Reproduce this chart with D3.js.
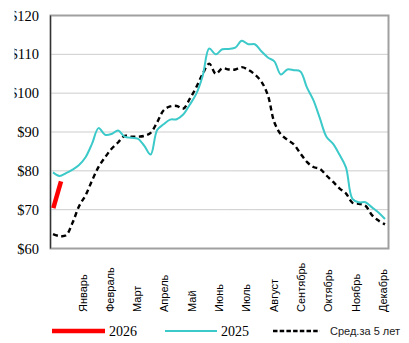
<!DOCTYPE html>
<html><head><meta charset="utf-8">
<script src="https://cdn.jsdelivr.net/npm/d3@7"></script>
<style>html,body{margin:0;padding:0;background:#fff;}svg{display:block;}</style>
</head><body>
<script>
const months = ["Январь","Февраль","Март","Апрель","Май","Июнь","Июль","Август","Сентябрь","Октябрь","Ноябрь","Декабрь"];
const yTicks = [60,70,80,90,100,110,120];
const series2026 = [70.4, 77.3];
const series2025 = [79.6,78.7,79.4,80.3,81.5,83.5,87.0,91.0,89.3,89.5,90.4,88.8,88.5,88.3,86.5,84.2,90.5,92.0,93.2,93.3,94.5,97.0,99.8,104.5,111.5,110.0,111.3,111.4,111.7,113.5,112.6,112.6,110.8,109.2,108.2,104.8,106.1,105.9,105.6,101.5,98.2,93.5,88.8,87.0,84.2,80.9,72.8,71.9,71.9,70.6,69.3,67.6];
const avg5 = [63.7,63.2,63.4,66.6,70.9,73.7,77.5,81.0,83.5,85.7,87.3,89.0,88.8,88.8,89.0,89.8,92.5,95.6,96.6,96.7,96.0,98.5,101.5,105.0,107.6,105.0,106.4,106.1,106.1,106.7,106.0,104.8,103.0,99.5,92.5,89.4,88.0,86.8,84.5,82.3,81.0,80.5,78.8,77.2,75.5,74.2,71.8,71.5,71.0,68.6,67.2,66.2];
const legendItems = [
  {label:"2026", color:"#ff0000", width:4.5, dash:null, font:"'Liberation Serif', serif", size:14, color2:"#000"},
  {label:"2025", color:"#3cc9c9", width:2, dash:null, font:"'Liberation Serif', serif", size:14, color2:"#000"},
  {label:"Сред.за 5 лет", color:"#000", width:2.6, dash:"4.5,2.2", font:"'Liberation Sans', Arial, sans-serif", size:11, color2:"#222"}
];

const W = 409, H = 343;
const svg = d3.select("body").append("svg").attr("width", W).attr("height", H);
const plot = {l:50.5, r:388.5, t:15.5, b:248.5};

const y = d3.scaleLinear().domain([60,120]).range([plot.b, plot.t]);
const x = d3.scaleLinear().domain([1,52]).range([53, 385]);
const xm = d3.scalePoint().domain(months).range([82.7, 383]);

svg.append("defs").append("clipPath").attr("id","ylab")
  .append("rect").attr("x",14.5).attr("y",0).attr("width",40).attr("height",H);

// gridlines
svg.append("g").selectAll("line").data(yTicks.filter(d=>d>60 && d<120)).join("line")
  .attr("x1", plot.l).attr("x2", plot.r)
  .attr("y1", d=>y(d)).attr("y2", d=>y(d))
  .attr("stroke", "#9a9a9a").attr("stroke-width", 1).attr("stroke-dasharray", "1,1");

// frame
svg.append("rect").attr("x", plot.l).attr("y", plot.t)
  .attr("width", plot.r-plot.l).attr("height", plot.b-plot.t)
  .attr("fill", "none").attr("stroke", "#a0a0a0").attr("stroke-width", 2);
svg.append("line").attr("x1", plot.l).attr("x2", plot.l).attr("y1", plot.t).attr("y2", plot.b)
  .attr("stroke", "#333").attr("stroke-width", 1.2);

// y labels
svg.append("g").attr("clip-path","url(#ylab)").selectAll("text").data(yTicks).join("text")
  .attr("x", 39).attr("y", d=>y(d)).attr("dy", "0.35em")
  .attr("text-anchor", "end")
  .attr("font-family", "'Liberation Serif', 'Times New Roman', serif")
  .attr("font-size", 14.5).attr("fill", "#000")
  .text(d=>"$"+d);

// month labels
svg.append("g").selectAll("text").data(months).join("text")
  .attr("transform", d=>`translate(${xm(d)},312) rotate(-90)`)
  .attr("dy", "0.35em")
  .attr("text-anchor", "start")
  .attr("font-family", "'Liberation Sans', Arial, sans-serif")
  .attr("font-size", 11).attr("fill", "#000")
  .text(d=>d);

const line = d3.line().x((d,i)=>x(i+1)).y(d=>y(d)).curve(d3.curveCatmullRom.alpha(0.5));

svg.append("path").datum(avg5).attr("d", line)
  .attr("fill","none").attr("stroke","#000").attr("stroke-width",2.4).attr("stroke-dasharray","5,3.5");
svg.append("path").datum(series2025).attr("d", line)
  .attr("fill","none").attr("stroke","#3cc9c9").attr("stroke-width",2);
const x26 = d3.scaleLinear().domain([1,2]).range([53.3, 61]);
svg.append("path").datum(series2026)
  .attr("d", d3.line().x((d,i)=>x26(i+1)).y(d=>y(d)))
  .attr("fill","none").attr("stroke","#ff0000").attr("stroke-width",4.5);

// legend
const legX = [52, 165, 273];
const legLen = [53, 52, 47];
const legGap = [4, 4, 10];
const lg = svg.append("g").selectAll("g").data(legendItems).join("g")
  .attr("transform", (d,i)=>`translate(${legX[i]},331)`);
lg.append("line").attr("x1",0).attr("x2",(d,i)=>legLen[i]).attr("y1",0).attr("y2",0)
  .attr("stroke", d=>d.color).attr("stroke-width", d=>d.width)
  .attr("stroke-dasharray", d=>d.dash);
lg.append("text").attr("x",(d,i)=>legLen[i]+legGap[i]).attr("y",0).attr("dy","0.35em")
  .attr("font-family", d=>d.font).attr("font-size", d=>d.size).attr("fill", d=>d.color2)
  .text(d=>d.label);
</script>
</body></html>
